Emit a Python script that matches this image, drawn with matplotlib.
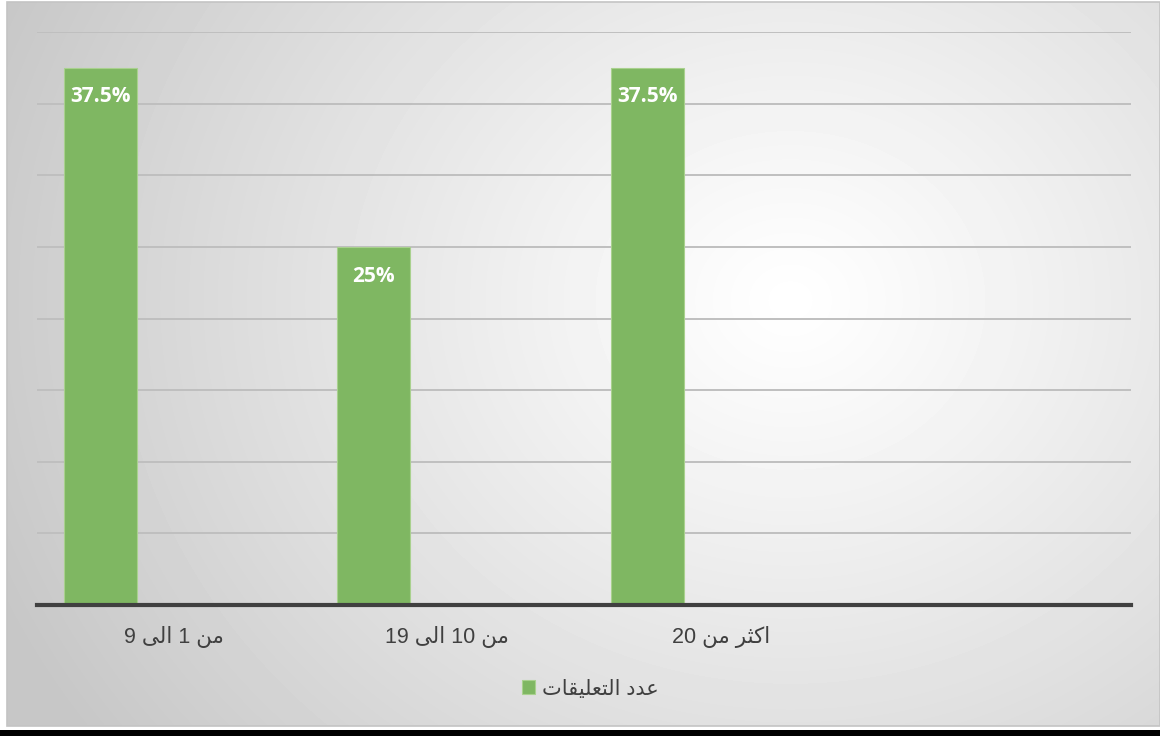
import numpy as np
import matplotlib.pyplot as plt
from matplotlib.patches import Rectangle

# chart data (logical Arabic text)
categories = ['من 1 الى 9', 'من 10 الى 19', 'اكثر من 20', '']
values = [37.5, 25, 37.5, np.nan]
series_name = 'عدد التعليقات'
y_max = 40
y_step = 5

# minimal Arabic shaping: (isolated, final, initial, medial)
FORMS = {
    'ا': (0xFE8D, 0xFE8E, None, None),
    'د': (0xFEA9, 0xFEAA, None, None),
    'ر': (0xFEAD, 0xFEAE, None, None),
    'ى': (0xFEEF, 0xFEF0, None, None),
    'ت': (0xFE95, 0xFE96, 0xFE97, 0xFE98),
    'ث': (0xFE99, 0xFE9A, 0xFE9B, 0xFE9C),
    'ع': (0xFEC9, 0xFECA, 0xFECB, 0xFECC),
    'ق': (0xFED5, 0xFED6, 0xFED7, 0xFED8),
    'ك': (0xFED9, 0xFEDA, 0xFEDB, 0xFEDC),
    'ل': (0xFEDD, 0xFEDE, 0xFEDF, 0xFEE0),
    'م': (0xFEE1, 0xFEE2, 0xFEE3, 0xFEE4),
    'ن': (0xFEE5, 0xFEE6, 0xFEE7, 0xFEE8),
    'ي': (0xFEF1, 0xFEF2, 0xFEF3, 0xFEF4),
}


def shape_word(w):
    out = []
    for i, c in enumerate(w):
        if c not in FORMS:
            out.append(c)
            continue
        prev = w[i - 1] if i > 0 else None
        nxt = w[i + 1] if i < len(w) - 1 else None
        jp = prev in FORMS and FORMS[prev][2] is not None
        jn = nxt in FORMS and FORMS[c][2] is not None
        iso, fin, ini, med = FORMS[c]
        if jp and jn:
            code = med
        elif jn:
            code = ini
        elif jp:
            code = fin
        else:
            code = iso
        out.append(chr(code))
    return ''.join(out)


def rtl(text):
    words = text.split(' ')[::-1]
    res = []
    for w in words:
        if any(c in FORMS for c in w):
            res.append(shape_word(w)[::-1])
        else:
            res.append(w)
    return ' '.join(res)


W, H = 1160, 736
fig = plt.figure(figsize=(W / 100, H / 100), dpi=100)
fig.patch.set_facecolor('white')

# gradient background of the chart area
bx0, bx1, by0, by1 = 7, 1160, 2, 726
bg = fig.add_axes([bx0 / W, 1 - by1 / H, (bx1 - bx0) / W, (by1 - by0) / H])
yy, xx = np.mgrid[by0:by1, bx0:bx1]
d = np.hypot((xx - 790) / 1.0, (yy - 300) * 1.15)
v = 1 - 0.22 * np.clip(d / 860, 0, 1) ** 1.1
bg.imshow(v, cmap='gray', vmin=0, vmax=1, aspect='auto', interpolation='bilinear')
bg.set_axis_off()
fig.add_artist(Rectangle((bx0 / W, 1 - by1 / H), (bx1 - bx0) / W, (by1 - by0) / H,
                         transform=fig.transFigure, fill=False, edgecolor='#c4c4c4', lw=1.2))
fig.add_artist(Rectangle((0, 0), 1, 6 / H, transform=fig.transFigure,
                         facecolor='black', edgecolor='none'))

# plot area
px0, px1, py0, py1 = 37, 1131, 32, 605
ax = fig.add_axes([px0 / W, 1 - py1 / H, (px1 - px0) / W, (py1 - py0) / H])
ax.set_facecolor('none')

x = np.arange(len(categories))
bar_w = 0.267
offset = -0.269
bars = ax.bar(x + offset, values, width=bar_w, color='#7fb762',
              edgecolor='#a9d18e', linewidth=0.8, zorder=3)

for xi, val in zip(x, values):
    if np.isnan(val):
        continue
    ax.annotate(f'{val:g}%', (xi + offset, val), xytext=(0, -21),
                textcoords='offset points', ha='center', va='center',
                color='white', fontsize=15, fontweight='bold',
                family='Open Sans', zorder=4)

ax.set_xlim(-0.5, len(categories) - 0.5)
ax.set_ylim(0, y_max)
ax.set_yticks(np.arange(0, y_max + 1, y_step))
ax.yaxis.grid(True, color='#bfbfbf', linewidth=1.4, zorder=0)
ax.set_yticklabels([])
ax.tick_params(axis='y', length=0)
ax.set_xticks(x)
ax.set_xticklabels([rtl(c) for c in categories], fontsize=15.5, color='#404040',
                   family=['Liberation Sans', 'DejaVu Sans'])
ax.tick_params(axis='x', length=0, pad=15)
for s in ['top', 'right', 'left']:
    ax.spines[s].set_visible(False)
ax.spines['bottom'].set_color('#404040')
ax.spines['bottom'].set_linewidth(3)
ax.spines['bottom'].set_zorder(5)

leg = fig.legend([bars], [rtl(series_name)], loc='center', bbox_to_anchor=(590 / W, 1 - 689 / H),
                 frameon=False, handlelength=0.65, handleheight=0.65, handletextpad=0.3,
                 prop={'family': ['Liberation Sans', 'DejaVu Sans'], 'size': 15})
for t in leg.get_texts():
    t.set_color('#404040')

fig.savefig('out.png', dpi=100)
